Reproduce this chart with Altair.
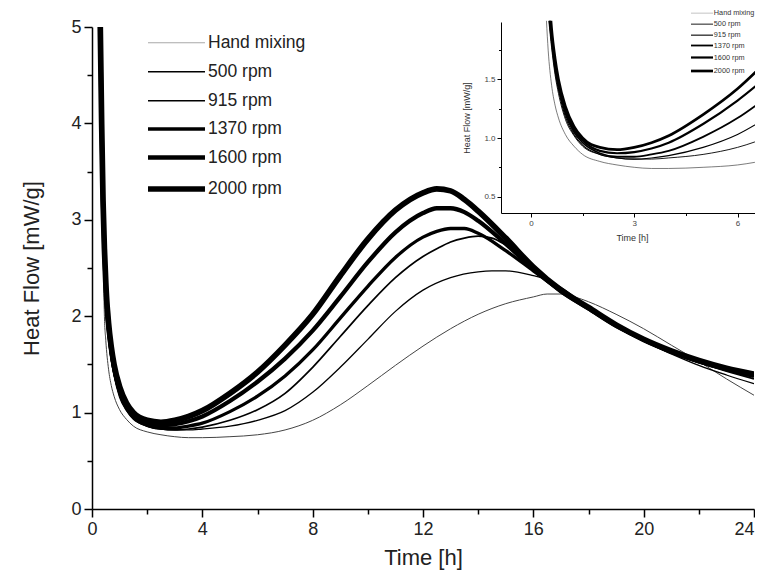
import altair as alt
import pandas as pd

series_names = ["Hand mixing", "500 rpm", "915 rpm", "1370 rpm", "1600 rpm", "2000 rpm"]

hand_t = [0.3, 0.35, 0.4, 0.45, 0.5, 0.6, 0.7, 0.8, 1.0, 1.25, 1.5, 2.0, 2.5, 3, 3.5, 4, 5, 6, 7, 8,
          9, 10, 11, 12, 13, 14, 15, 16, 16.5, 17, 17.5, 18, 19, 20, 21, 22, 23, 24]
hand_v = [5.0, 3.7, 2.75, 2.0, 1.75, 1.45, 1.28, 1.17, 1.03, 0.93, 0.86, 0.80, 0.77, 0.75, 0.74, 0.74, 0.75, 0.77, 0.82, 0.92,
          1.08, 1.28, 1.49, 1.69, 1.87, 2.02, 2.13, 2.20, 2.23, 2.23, 2.20, 2.15, 2.02, 1.87, 1.70, 1.53, 1.35, 1.18]

rpm500_t = [0.3, 0.35, 0.4, 0.45, 0.52, 0.6, 0.7, 0.8, 1.0, 1.25, 1.5, 2.0, 2.5, 3, 3.5, 4, 5, 6, 7, 8,
            9, 10, 11, 12, 13, 14, 14.5, 15, 16, 16.5, 17, 18, 19, 20, 21, 22, 23, 24]
rpm500_v = [5.0, 3.8, 2.95, 2.45, 2.0, 1.77, 1.54, 1.38, 1.16, 1.02, 0.93, 0.86, 0.83, 0.82, 0.82, 0.83, 0.86, 0.92, 1.02, 1.21,
            1.47, 1.76, 2.05, 2.27, 2.40, 2.46, 2.47, 2.47, 2.42, 2.38, 2.30, 2.09, 1.90, 1.74, 1.61, 1.49, 1.39, 1.30]

rpm915_t = [0.3, 0.35, 0.4, 0.45, 0.53, 0.6, 0.7, 0.8, 1.0, 1.25, 1.5, 2.0, 2.5, 3, 3.5, 4, 5, 6, 7, 8,
            9, 10, 11, 12, 12.5, 13, 13.5, 14, 14.5, 15, 16, 17, 18, 19, 20, 21, 22, 23, 24]
rpm915_v = [5.0, 3.85, 3.0, 2.5, 2.0, 1.8, 1.57, 1.41, 1.18, 1.03, 0.94, 0.86, 0.83, 0.82, 0.83, 0.85, 0.92, 1.03, 1.20, 1.47,
            1.79, 2.11, 2.40, 2.62, 2.70, 2.77, 2.81, 2.83, 2.81, 2.74, 2.52, 2.28, 2.08, 1.90, 1.75, 1.62, 1.52, 1.43, 1.35]

rpm1370_t = [0.3, 0.35, 0.4, 0.45, 0.55, 0.6, 0.7, 0.8, 1.0, 1.25, 1.5, 2.0, 2.5, 3, 3.5, 4, 5, 6, 7, 8,
             9, 10, 11, 12, 12.5, 13, 13.5, 14, 15, 16, 17, 18, 19, 20, 21, 22, 23, 24]
rpm1370_v = [5.0, 3.9, 3.1, 2.6, 2.0, 1.85, 1.61, 1.44, 1.21, 1.05, 0.96, 0.87, 0.84, 0.84, 0.86, 0.89, 1.01, 1.17, 1.38, 1.65,
             1.98, 2.31, 2.61, 2.82, 2.88, 2.91, 2.91, 2.86, 2.68, 2.47, 2.26, 2.08, 1.90, 1.75, 1.63, 1.53, 1.45, 1.38]

rpm1600_t = [0.3, 0.35, 0.4, 0.45, 0.5, 0.56, 0.6, 0.7, 0.8, 1.0, 1.25, 1.5, 2.0, 2.5, 3, 3.5, 4, 5, 6, 7,
             8, 9, 10, 11, 12, 12.5, 13, 13.5, 14, 15, 16, 17, 18, 19, 20, 21, 22, 23, 24]
rpm1600_v = [5.0, 3.95, 3.15, 2.65, 2.3, 2.0, 1.88, 1.64, 1.47, 1.24, 1.07, 0.98, 0.89, 0.87, 0.88, 0.91, 0.96, 1.12, 1.32, 1.56,
             1.85, 2.20, 2.56, 2.87, 3.07, 3.12, 3.12, 3.08, 2.99, 2.75, 2.49, 2.26, 2.08, 1.90, 1.76, 1.63, 1.53, 1.45, 1.38]

rpm2000_t = [0.3, 0.35, 0.4, 0.45, 0.5, 0.55, 0.58, 0.6, 0.7, 0.8, 1.0, 1.25, 1.5, 2.0, 2.5, 3, 3.5, 4, 5, 6,
             7, 8, 9, 10, 11, 12, 12.5, 13, 13.5, 14, 15, 16, 17, 18, 19, 20, 21, 22, 23, 24]
rpm2000_v = [5.0, 4.0, 3.2, 2.7, 2.35, 2.1, 2.0, 1.93, 1.68, 1.5, 1.27, 1.1, 1.0, 0.92, 0.90, 0.92, 0.96, 1.02, 1.20, 1.42,
             1.70, 2.02, 2.42, 2.80, 3.10, 3.28, 3.32, 3.30, 3.21, 3.09, 2.81, 2.51, 2.27, 2.09, 1.91, 1.76, 1.64, 1.54, 1.46, 1.40]

series_t = [hand_t, rpm500_t, rpm915_t, rpm1370_t, rpm1600_t, rpm2000_t]
series_v = [hand_v, rpm500_v, rpm915_v, rpm1370_v, rpm1600_v, rpm2000_v]

line_colors = ["#444444", "#000000", "#000000", "#000000", "#000000", "#000000"]
main_widths = [1.0, 1.3, 1.7, 3.3, 4.3, 5.7]
inset_widths = [0.7, 0.9, 1.1, 1.8, 2.2, 2.7]

x_ticks = [0, 2, 4, 6, 8, 10, 12, 14, 16, 18, 20, 22, 24]
y_ticks = [0, 0.5, 1, 1.5, 2, 2.5, 3, 3.5, 4, 4.5, 5]
inset_x_ticks = [0, 1.5, 3, 4.5, 6]
inset_y_ticks = [0.5, 0.75, 1.0, 1.25, 1.5, 1.75]

rows = []
for i, (name, ts, vs) in enumerate(zip(series_names, series_t, series_v)):
    for t, v in zip(ts, vs):
        rows.append({"series": name, "idx": i, "t": t, "hf": v})
df = pd.DataFrame(rows)

idx_domain = list(range(len(series_names)))
names_js = "[" + ",".join("'%s'" % s for s in series_names) + "]"
label_expr = names_js + "[datum.value]"
legend_color_expr = "datum.value === 0 ? '#a8a8a8' : '#000000'"

FONT = "Liberation Sans"
TXT = "#222222"

main_legend = alt.Legend(
    title=None, orient="none", direction="vertical", legendX=74.5, legendY=7, padding=0,
    values=idx_domain, labelExpr=label_expr,
    symbolType="M-4,0H4", symbolSize=203, symbolFillColor="transparent",
    symbolStrokeColor={"expr": legend_color_expr},
    labelFont=FONT, labelFontSize=17.5, labelColor=TXT, labelOffset=21.5,
    rowPadding=10,
)
inset_legend = alt.Legend(
    title=None, orient="none", direction="vertical", legendX=605.5, legendY=-17.5, padding=0,
    values=idx_domain, labelExpr=label_expr,
    symbolType="M-4,0H4", symbolSize=30.25, symbolFillColor="transparent",
    symbolStrokeColor={"expr": legend_color_expr},
    labelFont=FONT, labelFontSize=7.3, labelColor="#333333", labelOffset=7.3,
    rowPadding=3,
)

main = alt.Chart(df).mark_line(interpolate="monotone", clip=True).encode(
    x=alt.X("t:Q", scale=alt.Scale(domain=[0, 24], nice=False, zero=False),
            axis=alt.Axis(values=x_ticks, title="Time [h]", labelFlush=False,
                          labelExpr="datum.value % 4 === 0 ? format(datum.value, 'd') : ''",
                          labelAlign={"condition": {"test": "datum.value === 24", "value": "right"}, "value": "center"},
                          tickSize={"condition": {"test": "datum.value % 4 === 0", "value": 8}, "value": 5},
                          labelFontSize=18, titleFontSize=22, titlePadding=9, labelPadding=3,
                          grid=False)),
    y=alt.Y("hf:Q", scale=alt.Scale(domain=[0, 5], nice=False, zero=False),
            axis=alt.Axis(values=y_ticks, title="Heat Flow [mW/g]", labelFlush=False,
                          labelExpr="datum.value % 1 === 0 ? format(datum.value, 'd') : ''",
                          tickSize={"condition": {"test": "datum.value % 1 === 0", "value": 8}, "value": 5},
                          labelFontSize=18, titleFontSize=22, titlePadding=27, labelPadding=3,
                          grid=False)),
    color=alt.Color("series:N", sort=series_names,
                    scale=alt.Scale(domain=series_names, range=line_colors), legend=None),
    strokeWidth=alt.StrokeWidth("idx:Q", scale=alt.Scale(domain=idx_domain, range=main_widths),
                                legend=main_legend),
)

inset = alt.Chart(df).transform_filter(
    "datum.hf <= 2.0 && datum.t <= 7"
).mark_line(interpolate="monotone").encode(
    x=alt.X("t:Q", scale=alt.Scale(domain=[-0.87, 6.74], range=[409, 671], nice=False, zero=False),
            axis=alt.Axis(orient="bottom", offset=-296, values=inset_x_ticks, title="Time [h]", labelFlush=False,
                          labelExpr="datum.value % 3 === 0 ? format(datum.value, 'd') : ''",
                          tickSize={"condition": {"test": "datum.value % 3 === 0", "value": 4}, "value": 2.5},
                          labelFontSize=8, titleFontSize=9, titlePadding=6, labelPadding=2,
                          labelColor="#444444", titleColor="#333333", domainWidth=1, tickWidth=1,
                          grid=False)),
    y=alt.Y("hf:Q", scale=alt.Scale(domain=[0.36, 1.99], range=[186, -5], nice=False, zero=False),
            axis=alt.Axis(orient="left", offset=-409, values=inset_y_ticks, title="Heat Flow [mW/g]", labelFlush=False,
                          labelExpr="(datum.value * 2) % 1 === 0 ? format(datum.value, '.1f') : ''",
                          tickSize={"condition": {"test": "(datum.value * 2) % 1 === 0", "value": 4}, "value": 2.5},
                          labelFontSize=8, titleFontSize=9, titlePadding=12, labelPadding=2,
                          labelColor="#444444", titleColor="#333333", domainWidth=1, tickWidth=1,
                          grid=False)),
    color=alt.Color("series:N", sort=series_names,
                    scale=alt.Scale(domain=series_names, range=line_colors), legend=None),
    strokeWidth=alt.StrokeWidth("idx:Q", scale=alt.Scale(domain=idx_domain, range=inset_widths),
                                legend=inset_legend),
)

chart = alt.layer(main, inset).resolve_scale(
    x="independent", y="independent", color="independent", strokeWidth="independent"
).properties(
    width=662, height=482,
    autosize=alt.AutoSizeParams(type="none"),
    padding={"left": 84, "top": 19, "right": 1, "bottom": 64},
    background="white",
).configure_view(stroke=None).configure_axis(
    labelFont=FONT, titleFont=FONT, labelColor=TXT, titleColor=TXT,
    titleFontWeight="normal", domainColor="#000000", tickColor="#000000",
    domainWidth=1.5, tickWidth=1.5,
)

chart.save("out.html", embed_options={"renderer": "svg", "actions": False})
